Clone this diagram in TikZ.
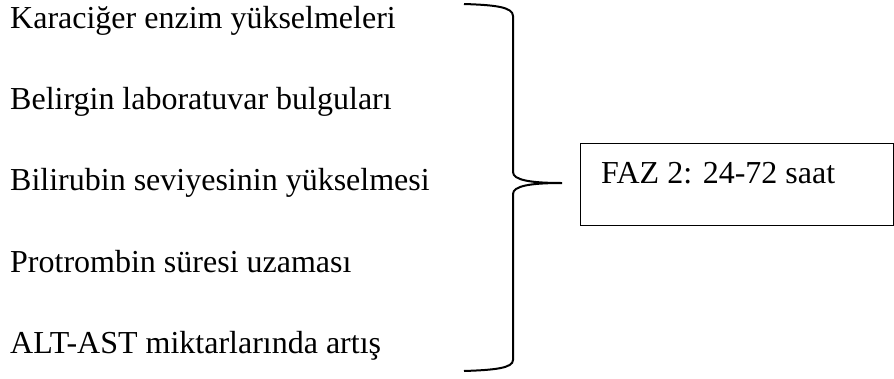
\documentclass[tikz,border=0pt]{standalone}
\usepackage{fontspec}
\setmainfont{Liberation Serif}
\usepackage{tikz}
\usetikzlibrary{positioning}
\tikzstyle{finding} = [anchor=base west, inner sep=0pt, font=\fontsize{32}{38}\selectfont]
\tikzstyle{phase} = [rectangle, draw=black, line width=1.4pt, minimum width=313pt, minimum height=82pt, anchor=north west]
\tikzstyle{bracket} = [line width=2pt]

\begin{document}
\begin{tikzpicture}[x=1pt, y=-1pt]
		\useasboundingbox (0,0) rectangle (894,378);
		\node[finding] (enzyme) at (10,28) {Karaciğer enzim yükselmeleri};
		\node[finding] (lab) at (10,109.5) {Belirgin laboratuvar bulguları};
		\node[finding] (bili) at (10,190.5) {Bilirubin seviyesinin yükselmesi};
		\node[finding] (pt) at (10,272) {Protrombin süresi uzaması};
		\node[finding] (alt) at (10,353) {ALT-AST miktarlarında artış};
		
		\node[phase] (faz2) at (580,143) {};
		\node[finding] (fazlabel) at (601,183) {FAZ 2: 24-72 saat};
		
		% curly bracket
		\coordinate (top) at (464,4);
		\coordinate (tip) at (562,183);
		\coordinate (bottom) at (464,371);
		\draw[bracket] (top) .. controls (495,5) and (513,7) .. (513,16)
			-- (513,172) .. controls (513,180) and (530,183) .. (tip)
			.. controls (530,183) and (513,186) .. (513,194)
			-- (513,360) .. controls (513,368) and (495,370) .. (bottom);
\end{tikzpicture}
\end{document}
